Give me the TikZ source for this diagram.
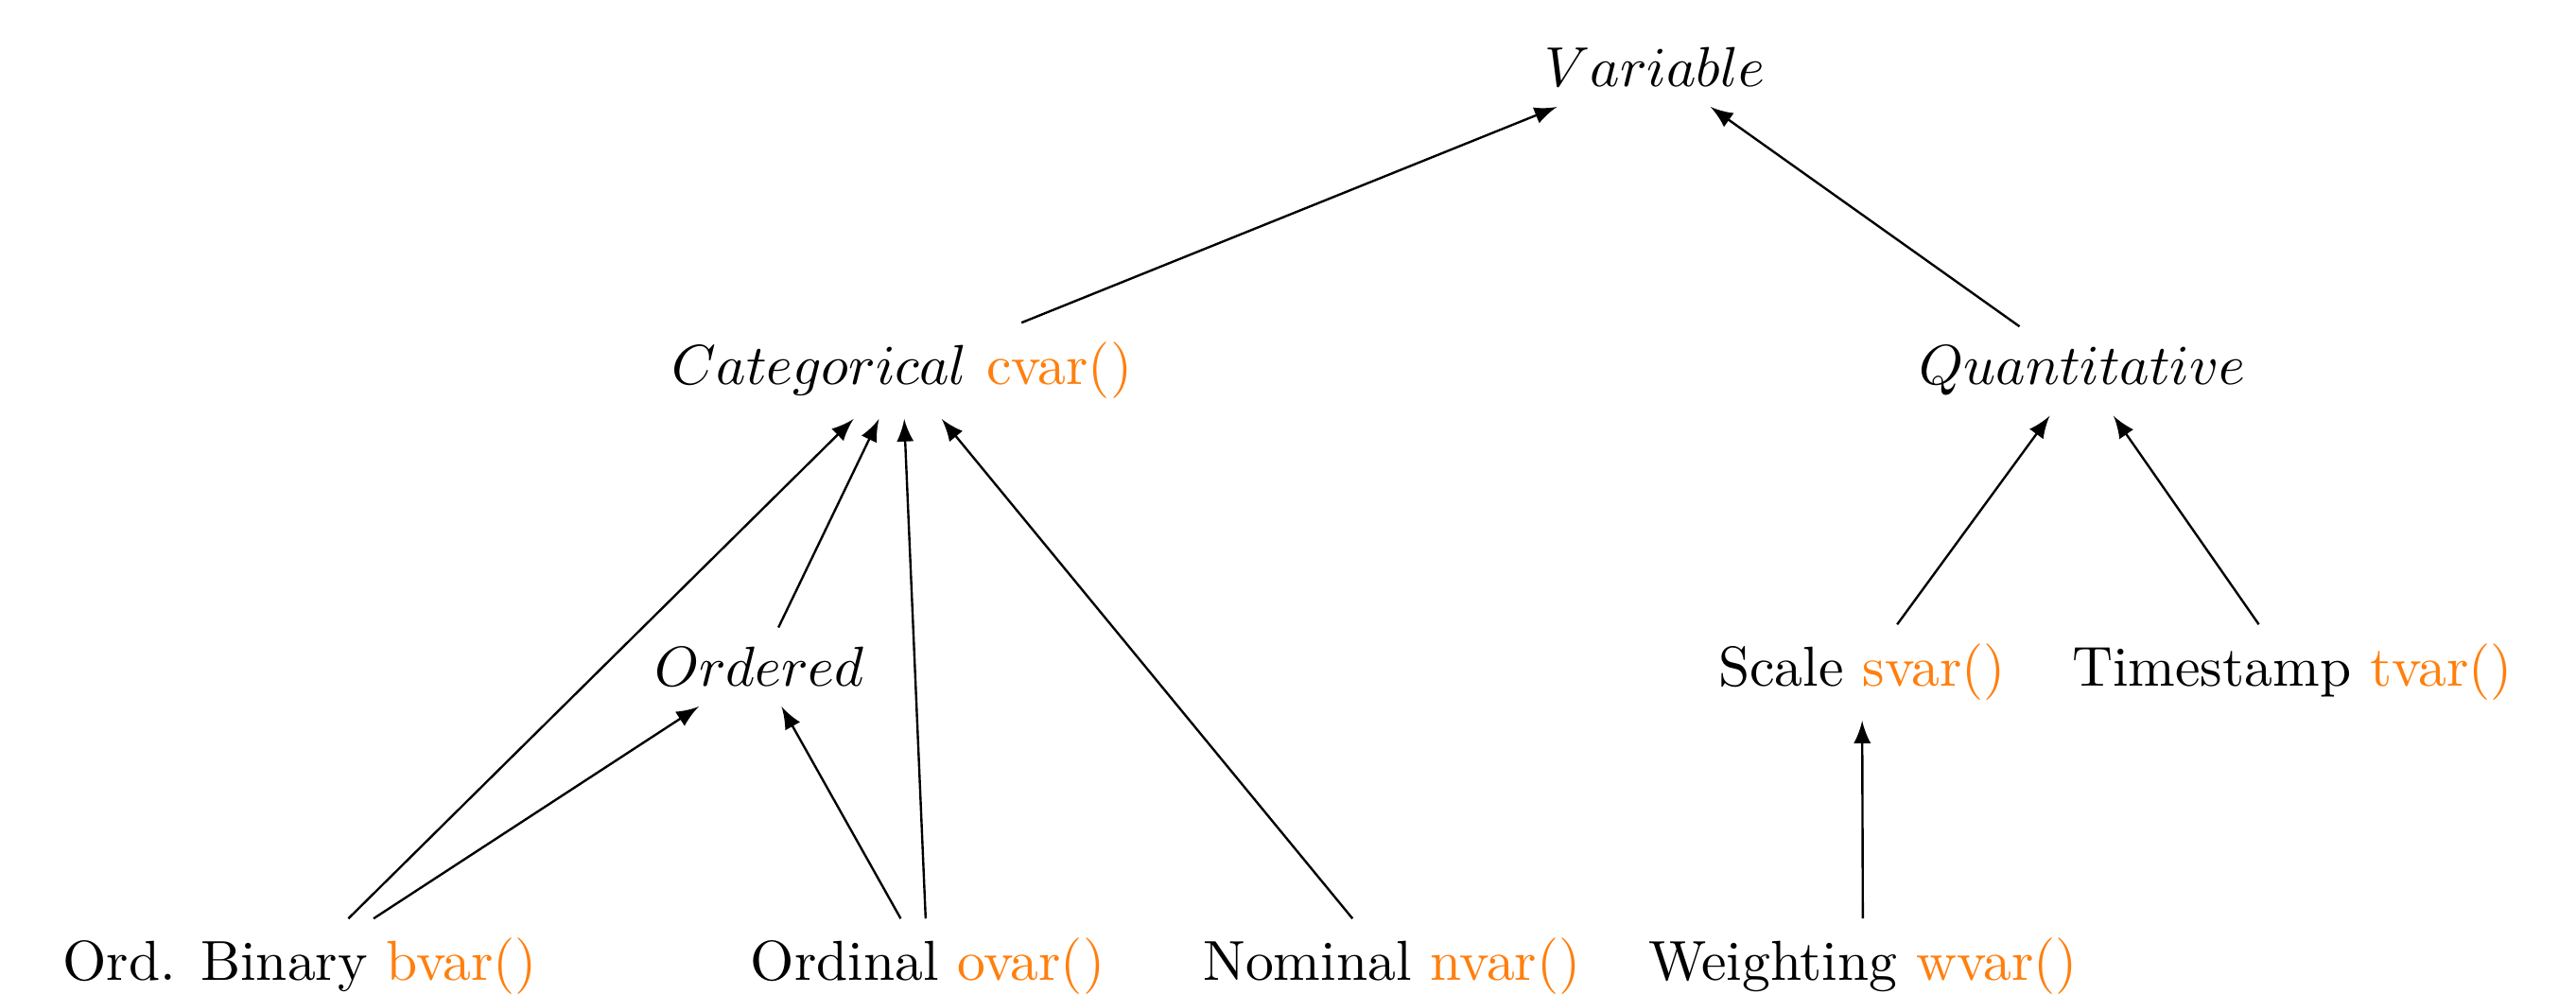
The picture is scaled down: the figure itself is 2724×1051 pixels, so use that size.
\documentclass[tikz,border=0pt]{standalone}
\usetikzlibrary{arrows}
\definecolor{varorange}{HTML}{FF7F0E}
\begin{document}
\begin{tikzpicture}[x=0.16779pt,y=-0.16779pt,
  lbl/.style={anchor=base},
  edge/.style={-latex, line width=0.4pt}]
\useasboundingbox (0,0) rectangle (2724,1051);
\node[lbl] (var) at (1750,92) {$Variable$};
\node[lbl] (cat) at (954,407) {$Categorical$ \textcolor{varorange}{cvar()}};
\node[lbl] (qua) at (2202,407) {$Quantitative$};
\node[lbl] (ord) at (803,726) {$Ordered$};
\node[lbl] (sca) at (1969,726) {Scale \textcolor{varorange}{svar()}};
\node[lbl] (tim) at (2424,726) {Timestamp \textcolor{varorange}{tvar()}};
\node[lbl] (bin) at (317,1037) {Ord. Binary \textcolor{varorange}{bvar()}};
\node[lbl] (odl) at (981,1037) {Ordinal \textcolor{varorange}{ovar()}};
\node[lbl] (nom) at (1472,1037) {Nominal \textcolor{varorange}{nvar()}};
\node[lbl] (wei) at (1970,1037) {Weighting \textcolor{varorange}{wvar()}};
\draw[edge] (cat) -- (var);
\draw[edge] (qua) -- (var);
\draw[edge] (ord) -- (cat);
\draw[edge] (bin) -- (cat);
\draw[edge] (bin) -- (ord);
\draw[edge] (odl) -- (ord);
\draw[edge] (odl) -- (cat);
\draw[edge] (nom) -- (cat);
\draw[edge] (sca) -- (qua);
\draw[edge] (tim) -- (qua);
\draw[edge] (wei) -- (sca);
\end{tikzpicture}
\end{document}
